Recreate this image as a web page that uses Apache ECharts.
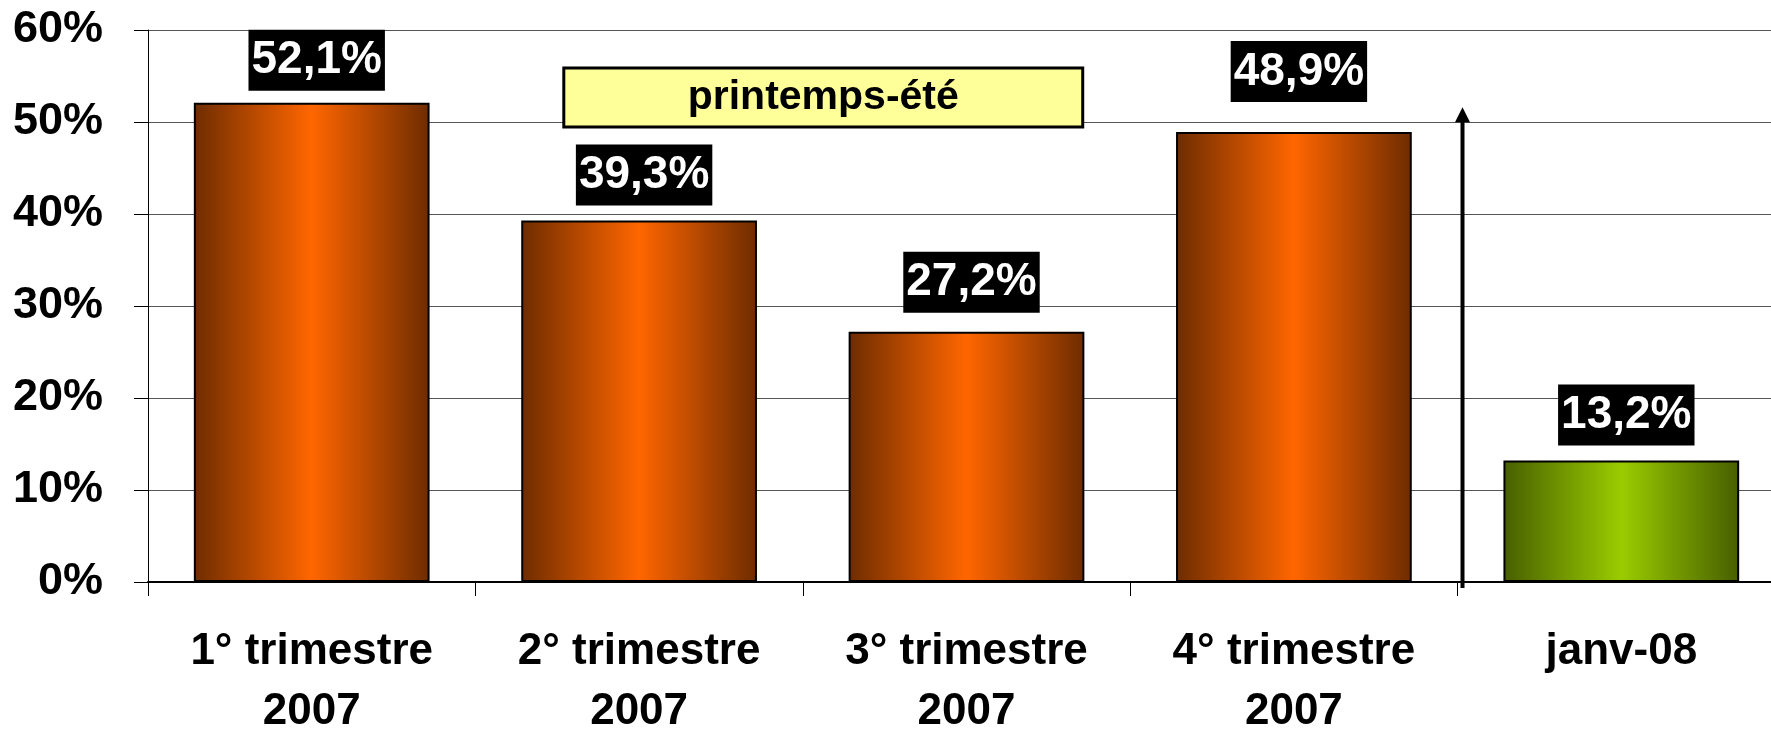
<!DOCTYPE html>
<html>
<head>
<meta charset="utf-8">
<script src="https://cdn.jsdelivr.net/npm/echarts@6/dist/echarts.min.js"></script>
<style>
  html, body { margin: 0; padding: 0; background: #fff; overflow: hidden; width: 100%; height: 100%; }
  #chart { position: absolute; left: 0; top: 0; width: 1771px; height: 729px; }
</style>
</head>
<body>
<div id="chart"></div>
<script>
// Share per period (%)
const categories = ['1° trimestre\n2007', '2° trimestre\n2007', '3° trimestre\n2007', '4° trimestre\n2007', 'janv-08'];
const shares = [52.1, 39.3, 27.2, 48.9, 13.2];
const periodKind = ['quarter', 'quarter', 'quarter', 'quarter', 'month'];
const yTicks = [0, 10, 20, 30, 40, 50, 60];
const seasonText = 'printemps-été';

const FONT = '"Liberation Sans", Arial, Helvetica, sans-serif';

// Gaps between each value box and its bar top
const LABEL_GAP = [12, 15, 19, 30, 15];

function barGradient(edge, mid) {
  return new echarts.graphic.LinearGradient(0, 0, 1, 0, [
    { offset: 0, color: edge },
    { offset: 0.5, color: mid },
    { offset: 1, color: edge }
  ]);
}

const fills = {
  quarter: () => barGradient('#6e2c00', '#ff6600'),
  month: () => barGradient('#475f00', '#9acc00')
};

const barData = shares.map((v, i) => ({
  value: v,
  itemStyle: { color: fills[periodKind[i]]() },
  label: { distance: LABEL_GAP[i] }
}));

const chart = echarts.init(document.getElementById('chart'), null, { renderer: 'canvas', width: 1771, height: 729 });

chart.setOption({
  animation: false,
  backgroundColor: '#ffffff',
  grid: { left: 148, top: 30, bottom: 147, right: -14, containLabel: false, outerBoundsMode: 'none' },
  xAxis: [
    {
      type: 'category',
      data: categories,
      boundaryGap: true,
      axisLine: { show: true, lineStyle: { color: '#000', width: 2 } },
      axisTick: { show: true, inside: false, length: 14, lineStyle: { color: '#000', width: 1 } },
      axisLabel: {
        show: true,
        interval: 0,
        margin: 40,
        color: '#000',
        fontFamily: FONT,
        fontWeight: 'bold',
        fontSize: 44,
        lineHeight: 60
      },
      splitLine: { show: false }
    },
    {
      // helper axis in category units for annotations
      type: 'value',
      min: 0,
      max: categories.length,
      show: false
    }
  ],
  yAxis: {
    type: 'value',
    min: yTicks[0],
    max: yTicks[yTicks.length - 1],
    interval: 10,
    axisLine: { show: true, lineStyle: { color: '#000', width: 1 } },
    axisTick: { show: true, inside: false, length: 14, lineStyle: { color: '#000', width: 1 } },
    axisLabel: {
      margin: 45,
      color: '#000',
      fontFamily: FONT,
      fontWeight: 'bold',
      fontSize: 45,
      formatter: v => v + '%'
    },
    splitLine: { show: true, lineStyle: { color: '#555', width: 1 } }
  },
  series: [
    {
      type: 'bar',
      data: barData,
      barWidth: '72%',
      itemStyle: { borderColor: '#000', borderWidth: 2 },
      label: {
        show: true,
        position: 'top',
        offset: [5, 0],
        formatter: p => p.value.toFixed(1).replace('.', ',') + '%',
        color: '#fff',
        backgroundColor: '#000',
        fontFamily: FONT,
        fontWeight: 'bold',
        fontSize: 46,
        lineHeight: 46,
        padding: [8, 3, 7, 3]
      },
      silent: true,
      z: 2
    },
    {
      // season banner
      type: 'custom',
      xAxisIndex: 1,
      yAxisIndex: 0,
      silent: true,
      clip: false,
      z: 4,
      data: [[1.27, 2.855, 49.46, 55.87]],
      renderItem: (params, api) => {
        const p0 = api.coord([api.value(0), api.value(3)]);
        const p1 = api.coord([api.value(1), api.value(2)]);
        return {
          type: 'group',
          children: [
            {
              type: 'rect',
              shape: { x: p0[0], y: p0[1], width: p1[0] - p0[0], height: p1[1] - p0[1] },
              style: { fill: '#ffff99', stroke: '#000', lineWidth: 3 }
            },
            {
              type: 'text',
              x: (p0[0] + p1[0]) / 2,
              y: (p0[1] + p1[1]) / 2,
              style: {
                text: seasonText,
                fill: '#000',
                font: 'bold 41px ' + FONT,
                align: 'center',
                verticalAlign: 'middle'
              }
            }
          ]
        };
      }
    },
    {
      // arrow between 2007 and 2008
      type: 'custom',
      xAxisIndex: 1,
      yAxisIndex: 0,
      silent: true,
      clip: false,
      z: 5,
      data: [[4.015, -0.65, 51.6]],
      renderItem: (params, api) => {
        const base = api.coord([api.value(0), api.value(1)]);
        const tip = api.coord([api.value(0), api.value(2)]);
        const head = 15;
        const half = 7.5;
        return {
          type: 'group',
          children: [
            {
              type: 'line',
              shape: { x1: base[0], y1: base[1], x2: tip[0], y2: tip[1] + head - 1 },
              style: { stroke: '#000', lineWidth: 4 }
            },
            {
              type: 'polygon',
              shape: { points: [[tip[0], tip[1]], [tip[0] - half, tip[1] + head], [tip[0] + half, tip[1] + head]] },
              style: { fill: '#000' }
            }
          ]
        };
      }
    }
  ]
});
</script>
</body>
</html>
